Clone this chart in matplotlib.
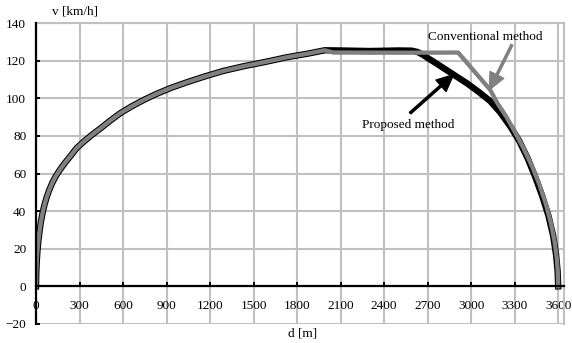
import numpy as np
import matplotlib
matplotlib.use("Agg")
from matplotlib import pyplot as plt

plt.rcParams['font.family'] = ['Liberation Serif', 'DejaVu Serif']
plt.rcParams['font.size'] = 9.5

# Acceleration phase (shared by both methods) - distance [m], speed [km/h]
d_acc = [0, 2, 5, 10, 16, 24, 33, 44, 57, 72, 90, 112, 136, 165, 198, 235, 280,
         330, 385, 445, 510, 580, 655, 740, 830, 930, 1040, 1160, 1290, 1430,
         1580, 1730, 1880, 1990]
v_acc = [0, 8, 13, 19, 24, 29, 34, 38.5, 43, 47, 51, 55, 58.5, 62, 65.5, 69,
         73.5, 77, 80.5, 84, 88, 92, 95.5, 99, 102.3, 105.5, 108.5, 111.5,
         114.5, 117, 119.3, 121.8, 123.8, 125.5]

# Proposed method (black): cruise, coast, brake
d_prop_end = [2100, 2300, 2500, 2590, 2630, 2670, 2700, 2760, 2830, 2900, 2970,
              3050, 3131, 3200, 3270, 3330, 3390, 3440, 3490, 3533, 3565, 3585,
              3596, 3600]
v_prop_end = [125.4, 125.1, 125.4, 125.3, 124.6, 123.0, 121.4, 118.5, 115, 111.5,
              108, 103.5, 98.5, 92.5, 85, 77.5, 68, 58.5, 48, 37.5, 27, 17, 8, 0]

# Conventional method (gray): cruise, linear drop, brake
d_conv_end = [2050, 2500, 2910, 3131, 3180, 3240, 3300, 3360, 3420, 3470, 3515,
              3550, 3575, 3590, 3597, 3600]
v_conv_end = [124.3, 124.2, 124.3, 104.5, 97.5, 90.5, 82.3, 73.6, 63.8, 54.2,
              43.8, 33.6, 23.8, 15, 8.2, 0]

d_prop = np.array(d_acc + d_prop_end)
v_prop = np.array(v_acc + v_prop_end)
d_conv = np.array(d_acc + d_conv_end)
v_conv = np.array(v_acc + v_conv_end)

x_ticks = np.arange(0, 3601, 300)
y_ticks = np.arange(-20, 141, 20)

fig = plt.figure(figsize=(5.72, 3.43), dpi=100)
ax = fig.add_axes([36/572, 19/343, 528/572, 301/343])

ax.plot(d_prop, v_prop, color='black', lw=4.6, solid_joinstyle='round', zorder=3)
ax.plot(d_conv, v_conv, color='#808080', lw=3.1, solid_joinstyle='round', zorder=4)

ax.set_xlim(0, 3640)
ax.set_ylim(-20, 140)
ax.set_xticks(x_ticks)
ax.set_yticks(y_ticks)
ax.grid(True, color='#c0c0c0', lw=1.5)
ax.set_axisbelow(True)

ax.spines['bottom'].set_position(('data', 0))
ax.spines['bottom'].set_linewidth(1.6)
ax.spines['left'].set_linewidth(1.6)
ax.spines['bottom'].set_zorder(5)
ax.spines['left'].set_zorder(5)
for s in ['top', 'right']:
    ax.spines[s].set_color('#c0c0c0')
    ax.spines[s].set_linewidth(1.5)

ax.tick_params(axis='x', direction='in', length=3, width=1.4, pad=10)
ax.tick_params(axis='y', direction='in', length=3, width=1.4, pad=7)

# annotations
ax.text(3097, 132.8, 'Conventional method', ha='center', va='center')
ax.text(2566, 86, 'Proposed method', ha='center', va='center')
ax.annotate('', xy=(3126, 104.5), xytext=(3281, 128.4),
            arrowprops=dict(color='#808080', width=1.5, headwidth=11,
                            headlength=12, shrink=0), zorder=6)
ax.annotate('', xy=(2878, 112.5), xytext=(2579, 92.1),
            arrowprops=dict(color='black', width=1.5, headwidth=11,
                            headlength=12, shrink=0), zorder=6)

fig.text(52/572, 1 - 11/343, 'v [km/h]', ha='left', va='center')
fig.text(303/572, 1 - 334/343, 'd [m]', ha='center', va='center')

fig.savefig('out.png', dpi=100)
